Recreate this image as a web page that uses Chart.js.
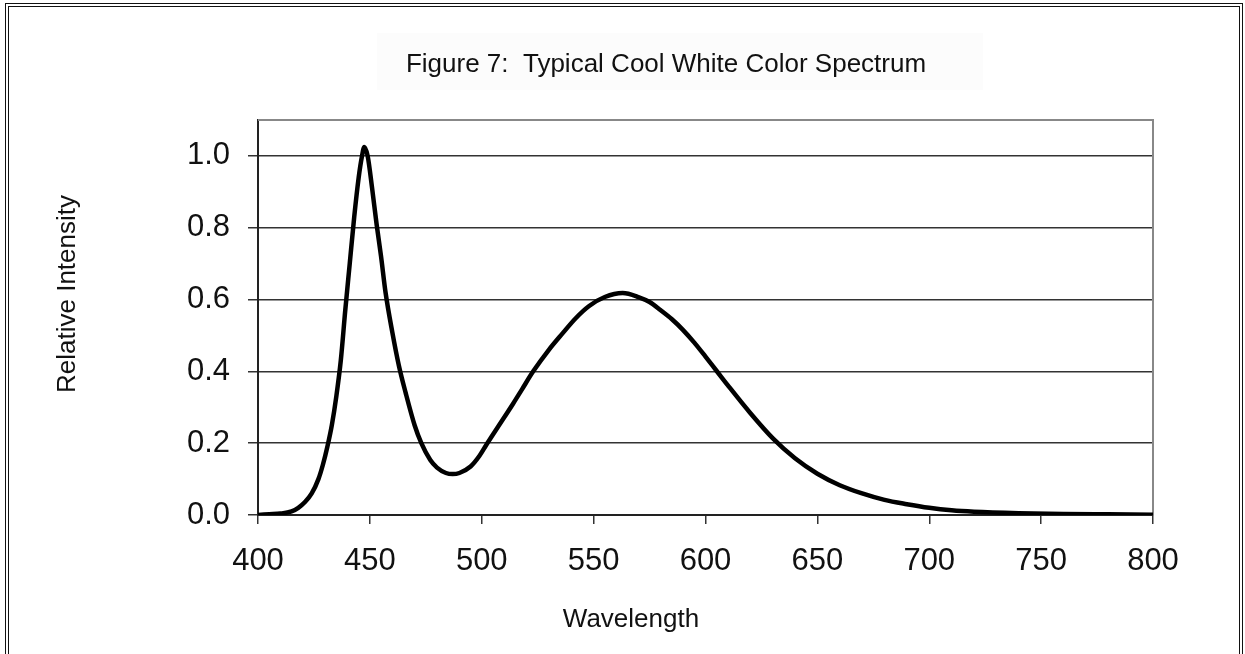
<!DOCTYPE html>
<html>
<head>
<meta charset="utf-8">
<title>Typical Cool White Color Spectrum</title>
<script src="https://cdn.jsdelivr.net/npm/chart.js@4/dist/chart.umd.min.js"></script>
<style>
    html, body { margin: 0; padding: 0; background: #fff; overflow: hidden; }
    #wrap { position: relative; width: 1245px; height: 654px; }
    #frame {
        position: absolute; left: 5px; top: 3px; width: 1230px; height: 700px;
        border: 4px double #111; pointer-events: none;
    }
</style>
</head>
<body>
<div id="wrap">
    <canvas id="myChart" width="1245" height="654"></canvas>
    <div id="frame"></div>
</div>
<script>
"use strict"

// DATA
const wavelengths = [400, 405, 410, 415, 418, 421, 424, 427, 429, 431, 433, 435, 437, 439, 441, 443, 445, 446.5, 447.5, 449, 451, 453, 455, 457, 460, 463, 466, 470, 473, 477, 480, 484, 487, 490, 495, 499, 502, 507, 514, 518, 523, 530, 536, 542, 548, 555, 563, 570, 575, 580, 585, 590, 595, 600, 605, 610, 620, 630, 640, 650, 660, 670, 680, 690, 700, 710, 720, 740, 760, 780, 800];
const intensity = [0.000, 0.002, 0.004, 0.010, 0.020, 0.036, 0.060, 0.100, 0.140, 0.190, 0.250, 0.330, 0.430, 0.570, 0.700, 0.830, 0.940, 1.000, 1.025, 1.000, 0.910, 0.810, 0.720, 0.620, 0.510, 0.415, 0.340, 0.250, 0.200, 0.153, 0.132, 0.117, 0.114, 0.117, 0.135, 0.165, 0.195, 0.243, 0.310, 0.350, 0.400, 0.460, 0.505, 0.548, 0.582, 0.607, 0.618, 0.607, 0.593, 0.570, 0.545, 0.515, 0.480, 0.441, 0.401, 0.361, 0.284, 0.214, 0.158, 0.115, 0.083, 0.060, 0.042, 0.030, 0.020, 0.013, 0.009, 0.005, 0.003, 0.002, 0.001];

const chartTitle = 'Figure 7:  Typical Cool White Color Spectrum';
const xTitle = 'Wavelength';
const yTitle = 'Relative Intensity';

const FONT = 'Arial, "Liberation Sans", sans-serif';

// PLUGIN FOR THE FRAME OF THE PLOT AND THE FREE TEXTS
const decor = {
    id: 'decor',
    beforeDraw(chart) {
        const ctx = chart.ctx;
        ctx.save();
        // very faint box behind the title
        ctx.fillStyle = '#fcfcfc';
        ctx.fillRect(377, 33, 606, 57);
        ctx.restore();
    },
    beforeDatasetsDraw(chart) {
        const ctx = chart.ctx;
        const a = chart.chartArea;
        ctx.save();
        ctx.strokeStyle = '#888';
        ctx.lineWidth = 2;
        ctx.beginPath();
        ctx.moveTo(a.left, a.top);
        ctx.lineTo(a.right, a.top);
        ctx.lineTo(a.right, a.bottom);
        ctx.stroke();
        ctx.restore();
    },
    afterDraw(chart) {
        const ctx = chart.ctx;
        ctx.save();
        ctx.fillStyle = '#111';
        ctx.textBaseline = 'alphabetic';
        ctx.textAlign = 'center';
        ctx.font = '26px ' + FONT;
        ctx.fillText(chartTitle, 666, 72);
        ctx.fillText(xTitle, 631, 627);
        ctx.translate(75, 294);
        ctx.rotate(-Math.PI / 2);
        ctx.fillText(yTitle, 0, 0);
        ctx.restore();
    }
};

// DATA OF THE CHART
const points = wavelengths.map((w, i) => ({ x: w, y: intensity[i] }));

const data = {
    datasets: [{
        label: 'Spectrum',
        data: points,
        borderColor: '#000',
        borderWidth: 4.5,
        pointRadius: 0,
        fill: false,
        cubicInterpolationMode: 'monotone'
    }]
};

// CONFIG OF THE CHART
const config = {
    type: 'line',
    data: data,
    plugins: [decor],
    options: {
        responsive: false,
        animation: false,
        layout: { padding: { top: 120, right: 92, left: 0, bottom: 0 } },
        plugins: {
            legend: { display: false },
            title: { display: false },
            tooltip: { enabled: false }
        },
        scales: {
            x: {
                type: 'linear',
                min: 400,
                max: 800,
                afterFit: (scale) => { scale.height = 139; },
                ticks: {
                    stepSize: 50,
                    padding: 19,
                    color: '#111',
                    font: { family: FONT, size: 31 }
                },
                grid: {
                    drawOnChartArea: false,
                    drawTicks: true,
                    tickLength: 9,
                    color: '#333',
                    lineWidth: 1.5
                },
                border: { color: '#222', width: 2 }
            },
            y: {
                min: 0,
                max: 1.1,
                afterFit: (scale) => { scale.width = 258; },
                afterBuildTicks: (scale) => {
                    scale.ticks = scale.ticks.filter(t => t.value <= 1.0001);
                },
                ticks: {
                    stepSize: 0.2,
                    padding: 18,
                    color: '#111',
                    font: { family: FONT, size: 31 },
                    callback: (v) => Number(v).toFixed(1)
                },
                grid: {
                    drawTicks: true,
                    tickLength: 10,
                    color: '#333',
                    lineWidth: 1.5
                },
                border: { color: '#222', width: 2 }
            }
        }
    }
};

//  initialize Chart
const myChart = new Chart(document.getElementById('myChart'), config);
</script>
</body>
</html>
